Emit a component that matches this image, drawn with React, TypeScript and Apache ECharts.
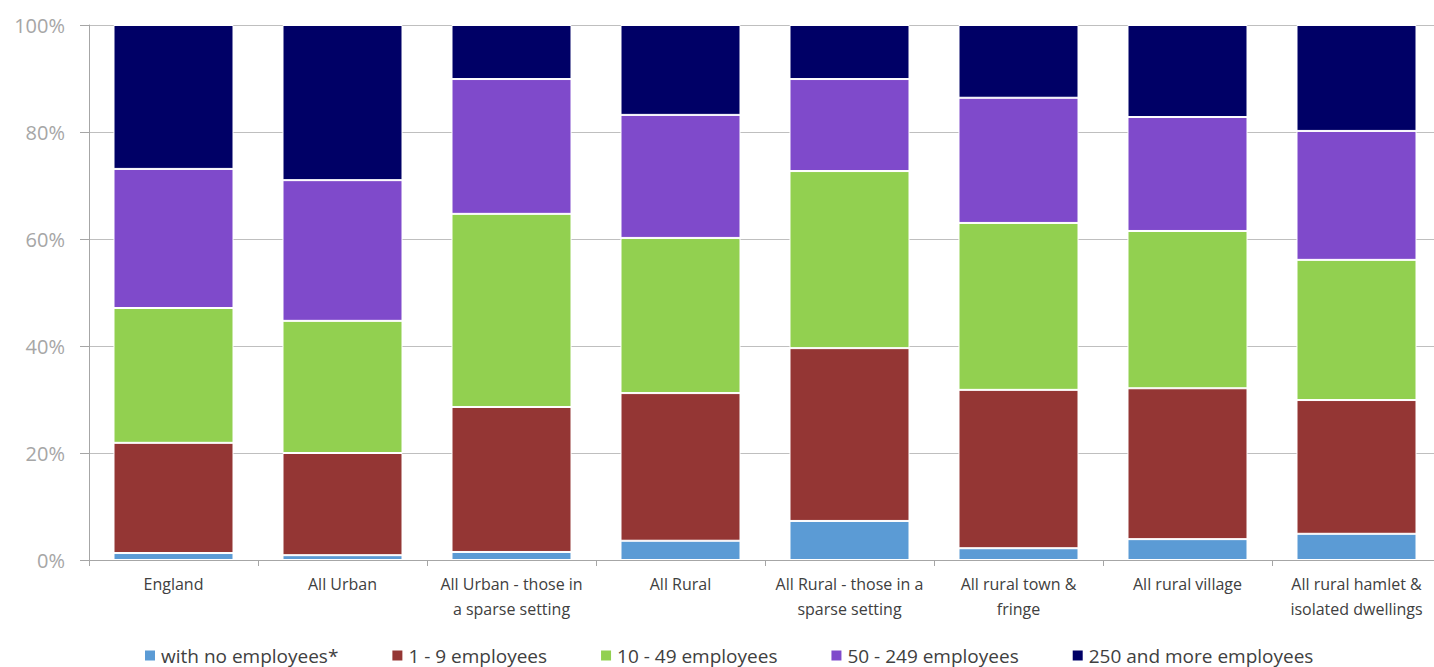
import React, { useEffect, useRef } from "react";
import * as echarts from "echarts";

const categories = [
  "England",
  "All Urban",
  "All Urban - those in\na sparse setting",
  "All Rural",
  "All Rural - those in a\nsparse setting",
  "All rural town &\nfringe",
  "All rural village",
  "All rural hamlet &\nisolated dwellings",
];

const seriesNames = [
  "with no employees*",
  "1 - 9 employees",
  "10 - 49 employees",
  "50 - 249 employees",
  "250 and more employees",
];

const noEmployees = [1.3, 0.9, 1.5, 3.6, 7.3, 2.2, 3.9, 4.9];
const emp1to9 = [20.6, 19.1, 27.1, 27.6, 32.3, 29.6, 28.2, 25.0];
const emp10to49 = [25.2, 24.7, 36.1, 29.0, 33.1, 31.2, 29.4, 26.2];
const emp50to249 = [26.0, 26.3, 25.2, 23.0, 17.2, 23.4, 21.3, 24.1];
const emp250plus = [26.9, 29.0, 10.1, 16.8, 10.1, 13.6, 17.2, 19.8];

const colors = ["#5B9BD5", "#943634", "#92D050", "#7F4ACB", "#000066"];

export default function App() {
  const ref = useRef<HTMLDivElement>(null);
  useEffect(() => {
    if (!ref.current) return;
    const chart = echarts.init(ref.current, undefined, { renderer: "svg" });
    const data = [noEmployees, emp1to9, emp10to49, emp50to249, emp250plus];
    chart.setOption({
      animation: false,
      color: colors,
      grid: { left: 89, right: 9, top: 25, bottom: 107, containLabel: false },
      legend: {
        left: 143,
        top: 646,
        padding: 0,
        itemWidth: 12,
        itemHeight: 12,
        itemGap: 52,
        icon: "rect",
        textStyle: { fontSize: 19, lineHeight: 19, color: "#404040", fontFamily: "Open Sans" },
        data: seriesNames,
      },
      xAxis: {
        type: "category",
        data: categories,
        axisLine: { lineStyle: { color: "#a6a6a6" } },
        axisTick: { show: true, length: 6, lineStyle: { color: "#a6a6a6" } },
        axisLabel: {
          fontSize: 16,
          color: "#404040",
          fontFamily: "Open Sans",
          lineHeight: 25,
          margin: 11,
          interval: 0,
        },
      },
      yAxis: {
        type: "value",
        min: 0,
        max: 100,
        interval: 20,
        axisLine: { show: true, lineStyle: { color: "#a6a6a6" } },
        axisTick: { show: true, length: 9, lineStyle: { color: "#a6a6a6" } },
        axisLabel: {
          formatter: "{value}%",
          fontSize: 20,
          color: "#a6a6a6",
          fontFamily: "Open Sans",
          margin: 24,
        },
        splitLine: { lineStyle: { color: "#bfbfbf" } },
      },
      series: seriesNames.map((name, i) => ({
        name,
        type: "bar",
        stack: "total",
        barWidth: 120,
        data: data[i],
        itemStyle: { borderColor: "#ffffff", borderWidth: 1 },
      })),
    });
    return () => chart.dispose();
  }, []);
  return (
    <div
      style={{ position: "fixed", left: 0, top: 0, width: 1434, height: 667, overflow: "hidden", background: "#fff" }}
    >
      <div ref={ref} style={{ width: 1450, height: 667 }} />
    </div>
  );
}
